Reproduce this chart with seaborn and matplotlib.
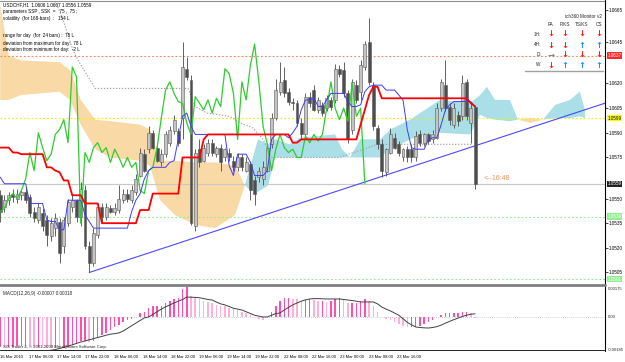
import numpy as np
import matplotlib
matplotlib.use("Agg")
import matplotlib.pyplot as plt
from matplotlib.lines import Line2D
import seaborn as sns

sns.set_theme(style="white")
plt.rcParams['font.family'] = ['Liberation Sans', 'DejaVu Sans']

# ---------------- data (USDCHF H1) ----------------
opens = [1.0552,1.0545,1.0549,1.0553,1.0550,1.0552,1.0554,1.0551,1.0542,1.0537,
         1.0541,1.0537,1.0527,1.0532,1.0536,1.0521,1.0535,1.0545,1.0549,1.0539,
         1.0555,1.0521,1.0511,1.0528,1.0545,1.0539,1.0544,1.0542,1.0543,1.0549,
         1.0553,1.0549,1.0554,1.0564,1.0577,1.0580,1.0590,1.0581,1.0572,1.0577,
         1.0584,1.0591,1.0591,1.0599,1.0629,1.0622,1.0533,1.0580,1.0573,1.0578,
         1.0584,1.0577,1.0581,1.0575,1.0578,1.0573,1.0569,1.0575,1.0567,1.0571,
         1.0561,1.0563,1.0562,1.0567,1.0583,1.0599,1.0615,1.0622,1.0615,1.0609,
         1.0608,1.0596,1.0589,1.0612,1.0616,1.0604,1.0607,1.0605,1.0610,1.0610,
         1.0629,1.0628,1.0614,1.0592,1.0619,1.0615,1.0630,1.0645,1.0619,1.0593,
         1.0583,1.0566,1.0578,1.0587,1.0583,1.0575,1.0580,1.0580,1.0575,1.0589,
         1.0584,1.0589,1.0586,1.0587,1.0605,1.0619,1.0606,1.0595,1.0601,1.0600,
         1.0621,1.0596,1.0606]
highs = [1.0555,1.0552,1.0554,1.0556,1.0556,1.0556,1.0557,1.0553,1.0545,1.0547,
         1.0544,1.0540,1.0538,1.0541,1.0538,1.0539,1.0550,1.0552,1.0550,1.0560,
         1.0558,1.0524,1.0532,1.0547,1.0547,1.0547,1.0546,1.0547,1.0558,1.0556,
         1.0556,1.0558,1.0565,1.0581,1.0580,1.0594,1.0592,1.0583,1.0580,1.0591,
         1.0594,1.0601,1.0593,1.0645,1.0636,1.0625,1.0580,1.0586,1.0583,1.0586,
         1.0586,1.0582,1.0583,1.0581,1.0581,1.0576,1.0578,1.0577,1.0575,1.0573,
         1.0564,1.0569,1.0573,1.0584,1.0602,1.0623,1.0633,1.0630,1.0617,1.0611,
         1.0610,1.0599,1.0614,1.0615,1.0619,1.0612,1.0609,1.0613,1.0612,1.0632,
         1.0631,1.0633,1.0616,1.0623,1.0622,1.0634,1.0646,1.0660,1.0621,1.0595,
         1.0586,1.0581,1.0593,1.0590,1.0585,1.0581,1.0582,1.0583,1.0591,1.0592,
         1.0590,1.0590,1.0592,1.0608,1.0623,1.0634,1.0608,1.0608,1.0603,1.0625,
         1.0623,1.0608,1.0607]
lows = [1.0536,1.0542,1.0546,1.0548,1.0547,1.0549,1.0547,1.0539,1.0536,1.0535,
        1.0530,1.0521,1.0524,1.0527,1.0511,1.0517,1.0533,1.0542,1.0536,1.0533,
        1.0519,1.0505,1.0509,1.0526,1.0536,1.0537,1.0541,1.0540,1.0541,1.0547,
        1.0548,1.0547,1.0552,1.0563,1.0566,1.0578,1.0580,1.0572,1.0570,1.0575,
        1.0582,1.0589,1.0582,1.0586,1.0622,1.0534,1.0530,1.0569,1.0572,1.0576,
        1.0576,1.0575,1.0567,1.0573,1.0573,1.0567,1.0567,1.0567,1.0566,1.0549,
        1.0546,1.0560,1.0558,1.0566,1.0581,1.0598,1.0613,1.0612,1.0607,1.0604,
        1.0594,1.0586,1.0587,1.0606,1.0603,1.0602,1.0600,1.0603,1.0604,1.0608,
        1.0624,1.0612,1.0584,1.0589,1.0608,1.0610,1.0628,1.0619,1.0592,1.0580,
        1.0563,1.0564,1.0577,1.0580,1.0576,1.0573,1.0572,1.0572,1.0573,1.0582,
        1.0582,1.0583,1.0584,1.0586,1.0603,1.0603,1.0595,1.0593,1.0594,1.0598,
        1.0598,1.0584,1.0556]
closes = [1.0542,1.0549,1.0552,1.0551,1.0553,1.0554,1.0549,1.0541,1.0538,1.0545,
          1.0533,1.0528,1.0535,1.0538,1.0517,1.0537,1.0548,1.0549,1.0539,1.0556,
          1.0521,1.0511,1.0529,1.0545,1.0539,1.0545,1.0542,1.0544,1.0550,1.0553,
          1.0550,1.0555,1.0562,1.0578,1.0567,1.0590,1.0581,1.0573,1.0577,1.0589,
          1.0592,1.0598,1.0584,1.0630,1.0624,1.0535,1.0578,1.0572,1.0581,1.0584,
          1.0578,1.0581,1.0572,1.0580,1.0575,1.0569,1.0575,1.0569,1.0572,1.0555,
          1.0553,1.0567,1.0569,1.0581,1.0599,1.0616,1.0621,1.0614,1.0609,1.0608,
          1.0596,1.0589,1.0612,1.0608,1.0604,1.0610,1.0602,1.0611,1.0606,1.0629,
          1.0626,1.0614,1.0586,1.0621,1.0610,1.0631,1.0644,1.0621,1.0594,1.0583,
          1.0567,1.0580,1.0589,1.0581,1.0578,1.0580,1.0575,1.0575,1.0588,1.0584,
          1.0589,1.0585,1.0589,1.0605,1.0621,1.0605,1.0598,1.0605,1.0597,1.0620,
          1.0600,1.0605,1.0559]

kijun = [1.0581]*3 + [1.0578]*2 + [1.0577]*6 + [1.0569]*2 + [1.0567, 1.0566] + \
        [1.0561]*2 + [1.0552]*3 + [1.0547]*4 + [1.0535]*9 + [1.0543]*3 + \
        [1.0553]*7 + [1.0575]*5 + [1.0586] + [1.0589]*20 + [1.0584]*2 + \
        [1.0586]*14 + [1.0595, 1.0604, 1.0613, 1.0618, 1.0618] + [1.0611]*21 + \
        [1.0608, 1.0606]
tenkan = [1.0563] + [1.0559]*6 + [1.0547]*4 + [1.0537] + [1.0536]*2 + [1.0531]*2 + \
         [1.0549]*4 + [1.0540, 1.0536] + [1.0532]*9 + [1.0542, 1.0549, 1.0553, 1.0562, 1.0567] + \
         [1.0569]*4 + [1.0572, 1.0573, 1.0586, 1.0600, 1.0602, 1.0594] + [1.0589]*8 + \
         [1.0570, 1.0564] + [1.0577]*3 + [1.0572] + [1.0564]*3 + [1.0567, 1.0586] + \
         [1.0589]*3 + [1.0587, 1.0590, 1.0594, 1.0604, 1.0610, 1.0610, 1.0611, 1.0606, 1.0606,
                       1.0610] + [1.0614]*4 + [1.0609, 1.0606, 1.0606, 1.0607, 1.0615, 1.0618] + \
         [1.0619]*3 + [1.0616]*3 + [1.0613, 1.0610, 1.0592, 1.0581] + [1.0580]*3 + \
         [1.0586, 1.0587, 1.0587, 1.0595, 1.0604, 1.0607] + [1.0609]*5 + [1.0606]

# Kumo (Senkou spans, already shifted 26 bars forward), positions in bars
cloud_pos = [0, 2, 5, 14, 16.5, 19, 22.4, 26, 33, 35.3, 37.7, 41.2, 46, 50.7, 55.4, 57.7,
             59, 60.8, 63.2, 64.8, 68.3, 70.7, 79, 80.6, 82.5, 84.9, 89.6, 92, 96.7,
             100.2, 103.7, 110.8, 113.2, 114.8, 116.7, 120.2, 122.1, 125, 128, 130.9,
             134.4, 136.7, 137.9]
span_a = [1.0610, 1.0610, 1.0613, 1.0615, 1.0610, 1.0595, 1.0580, 1.0575, 1.0573, 1.0570,
          1.0549, 1.0540, 1.0534, 1.0532, 1.0540, 1.0558,
          1.0570, 1.0586, 1.0583, 1.0586, 1.0583, 1.0587, 1.0589, 1.0580, 1.0575, 1.0586,
          1.0586, 1.0592, 1.0598, 1.0604, 1.0610, 1.0608, 1.0613, 1.0618, 1.0610, 1.0610,
          1.0598, 1.0596, 1.0598, 1.0607, 1.0610, 1.0615, 1.0604]
span_b = [1.0668, 1.0637, 1.0634, 1.0633, 1.0628, 1.0610, 1.0598, 1.0597, 1.0595, 1.0592,
          1.0573, 1.0573, 1.0572, 1.0572, 1.0570, 1.0558,
          1.0555, 1.0554, 1.0558, 1.0575, 1.0575, 1.0575, 1.0575, 1.0575, 1.0575, 1.0575,
          1.0575, 1.0580, 1.0586, 1.0589, 1.0590, 1.0589, 1.0601, 1.0599, 1.0598, 1.0597,
          1.0598, 1.0599, 1.0598, 1.0599, 1.0599, 1.0600, 1.0599]

gray_pos = [13.0, 14.8, 17.2, 18.4, 22.4, 44.3, 46.0, 48.8, 54.2, 56.6, 59.6, 62.0, 64.0,
            80.0, 89.0, 111.5]
gray_val = [1.0670, 1.0659, 1.0640, 1.0634, 1.0617, 1.0617, 1.0606, 1.0602, 1.0600, 1.0596,
            1.0593, 1.0586, 1.0575, 1.0575, 1.0583, 1.0583]

trend_pos = [21, 142.6]
trend_val = [1.0505, 1.0608]

levels = {"1.0637": (1.0637, '#ff7f50', '#ff2a2a', 'white'),
          "1.0599": (1.0599, '#f0f000', '#ffff00', 'black'),
          "1.0559": (1.0559, '#c8c8c8', '#202020', 'white'),
          "1.0539": (1.0539, '#90ee90', '#90ee90', 'white'),
          "1.0501": (1.0501, '#90ee90', '#90ee90', 'white')}
price_ticks = [1.0665, 1.0645, 1.0620, 1.0605, 1.0590, 1.0575, 1.0550, 1.0535, 1.0520, 1.0505]
price_tick_labels = ["1.0665", "1.0645", "1.0620", "1.0605", "1.0590", "1.0575", "1.0550",
                     "1.0535", "1.0520", "1.0505"]

macd_main = [-0.00170,-0.00172,-0.00172,-0.00170,-0.00168,-0.00168,-0.00166,-0.00168,-0.00170,-0.00170,
             -0.00172,-0.00175,-0.00178,-0.00178,-0.00180,-0.00178,-0.00170,-0.00160,-0.00155,-0.00140,
             -0.00140,-0.00145,-0.00140,-0.00120,-0.00105,-0.00090,-0.00075,-0.00060,-0.00045,-0.00030,
             -0.00018,-0.00010,0.00000,0.00020,0.00030,0.00050,0.00060,0.00060,0.00065,0.00080,
             0.00090,0.00105,0.00110,0.00160,0.00170,0.00120,0.00110,0.00100,0.00090,0.00085,
             0.00080,0.00070,0.00065,0.00060,0.00050,0.00045,0.00040,0.00030,0.00025,0.00010,
             0.00000,-0.00010,-0.00015,0.00000,0.00030,0.00060,0.00090,0.00110,0.00110,0.00105,
             0.00100,0.00090,0.00095,0.00100,0.00095,0.00090,0.00090,0.00085,0.00090,0.00100,
             0.00110,0.00100,0.00080,0.00080,0.00080,0.00090,0.00100,0.00090,0.00060,0.00030,
             0.00000,-0.00010,-0.00020,-0.00030,-0.00040,-0.00050,-0.00060,-0.00060,-0.00055,-0.00050,
             -0.00040,-0.00030,-0.00020,0.00000,0.00010,0.00020,0.00020,0.00020,0.00020,0.00030,
             0.00030,0.00025,-0.00007]
macd_signal = [-0.00215,-0.00213,-0.00210,-0.00208,-0.00206,-0.00204,-0.00202,-0.00200,-0.00198,-0.00196,
               -0.00194,-0.00192,-0.00190,-0.00186,-0.00180,-0.00173,-0.00166,-0.00159,-0.00151,-0.00143,
               -0.00137,-0.00130,-0.00124,-0.00117,-0.00111,-0.00104,-0.00098,-0.00095,-0.00091,-0.00080,
               -0.00065,-0.00050,-0.00035,-0.00020,-0.00005,0.00000,0.00015,0.00030,0.00045,0.00058,
               0.00069,0.00080,0.00090,0.00100,0.00114,0.00113,0.00112,0.00110,0.00105,0.00100,
               0.00097,0.00085,0.00075,0.00069,0.00060,0.00050,0.00045,0.00040,0.00030,0.00020,
               0.00010,0.00005,0.00000,0.00000,0.00010,0.00020,0.00023,0.00040,0.00055,0.00069,
               0.00080,0.00090,0.00098,0.00103,0.00105,0.00105,0.00104,0.00103,0.00103,0.00103,
               0.00103,0.00100,0.00097,0.00094,0.00090,0.00086,0.00086,0.00086,0.00086,0.00075,
               0.00057,0.00045,0.00035,0.00023,0.00010,-0.00010,-0.00030,-0.00045,-0.00057,-0.00060,
               -0.00062,-0.00063,-0.00060,-0.00055,-0.00046,-0.00035,-0.00025,-0.00015,-0.00006,0.00003,
               0.00010,0.00016,0.00018]

time_tick_pos = [0.0, 6.79, 13.4, 20.0, 26.8, 33.7, 40.3, 46.9, 53.5, 60.1, 66.9, 73.5, 80.1, 86.9, 93.6]
time_tick_labels = ["16 Mar 2010", "17 Mar 06:00", "17 Mar 14:00", "17 Mar 22:00", "18 Mar 06:00",
                    "18 Mar 14:00", "18 Mar 22:00", "19 Mar 06:00", "19 Mar 14:00", "19 Mar 22:00",
                    "22 Mar 08:00", "22 Mar 16:00", "23 Mar 00:00", "23 Mar 08:00", "23 Mar 16:00"]

info_lines = ["USDCHF,H1  1.0606 1.0607 1.0556 1.0559",
              "parameters SSP , SSK  =   75 ,  75 ;",
              "volatility  (for 168-bars)  :   154 L",
              "",
              "range for day  (for  24 bars) :  75 L",
              "deviation from maximum for day:  78 L",
              "deviation from minimum for day:  -2 L"]

monitor_rows = ["1H:", "4H:", "D:", "W:"]
monitor_cols = ["PA", "P/KS", "TS/KS", "CS"]
monitor_state = [["dn", "dn", "dn", "dn"],
                 ["dn", "dn", "up", "up"],
                 ["flat", "dn", "dn", "dn"],
                 ["dn", "up", "up", "up"]]

FS = 3.3

# ---------------- figure ----------------
W, H = 625, 362
fig = plt.figure(figsize=(W / 100, H / 100), dpi=100)
fig.patch.set_facecolor('white')

def frac(l, t, w, h):
    return [l / W, 1 - (t + h) / H, w / W, h / H]

ax = fig.add_axes(frac(0, 1, 605, 282))
mx = fig.add_axes(frac(0, 287, 605, 63))

n = len(closes)
idx = np.arange(n)
o = np.array(opens); c = np.array(closes); hi = np.array(highs); lo = np.array(lows)

XL = (-0.047, 142.64)
ax.set_xlim(*XL)
ax.set_ylim(1.04986, 1.06702)
ax.set_facecolor('white')

# cloud
ca = np.array(span_a); cb = np.array(span_b); cp = np.array(cloud_pos)
ax.fill_between(cp, ca, cb, where=ca >= cb, interpolate=True, color='#aadfe8', lw=0, zorder=1)
ax.fill_between(cp, ca, cb, where=ca <= cb, interpolate=True, color='#f9d9a6', lw=0, zorder=1)

# horizontal levels
for lab, (val, lc, bg, fg) in levels.items():
    ls = '-' if lab == "1.0559" else (0, (1.5, 2))
    ax.axhline(val, color=lc, lw=0.8, ls=ls, zorder=1.5)

# gray dotted line
sns.lineplot(x=gray_pos, y=gray_val, ax=ax, color='#a0a0a0', lw=0.8, linestyle=(0, (1.2, 1.5)),
             estimator=None, sort=False, zorder=1.6)

# trend line
sns.lineplot(x=trend_pos, y=trend_val, ax=ax, color='#4a4aff', lw=0.8, estimator=None,
             sort=False, zorder=2)

# candles
bull = c >= o
ax.vlines(idx, lo, hi, color='#4a4a4a', lw=0.6, zorder=3)
body = np.maximum(np.abs(c - o), 0.00004)
ax.bar(idx, body, bottom=np.minimum(o, c), width=0.7,
       color=np.where(bull, '#c4c4c4', '#4d4d4d'), edgecolor='#5a5a5a', linewidth=0.4, zorder=4)

# ichimoku lines
sns.lineplot(x=idx[26:] - 26, y=c[26:], ax=ax, color='#2ecc2e', lw=0.9, estimator=None,
             sort=False, zorder=5)
sns.lineplot(x=idx, y=tenkan, ax=ax, color='#3c3cff', lw=0.7, estimator=None, sort=False, zorder=5)
sns.lineplot(x=idx, y=kijun, ax=ax, color='#ff0000', lw=1.3, estimator=None, sort=False, zorder=5.5)

# price axis
ax.yaxis.tick_right()
ax.set_yticks(price_ticks)
ax.set_yticklabels(price_tick_labels)
ax.tick_params(axis='y', length=2, width=0.5, pad=1, labelsize=FS, colors='black')
ax.set_xticks([])
ax.grid(False)
for s in ['left', 'bottom', 'right']:
    ax.spines[s].set_visible(False)
ax.spines['top'].set_color('#909090')
ax.spines['top'].set_linewidth(0.8)

for lab, (val, lc, bg, fg) in levels.items():
    ax.text(1.004, val, lab, transform=ax.get_yaxis_transform(), fontsize=FS, color=fg,
            va='center', ha='left', clip_on=False, zorder=10,
            bbox=dict(facecolor=bg, edgecolor='none', pad=0.5))

# info text
for k, line in enumerate(info_lines):
    if line:
        ax.text(3 / 605, 1 - (1 + 7.0 * k + (3.5 if k >= 4 else 0)) / 282, line,
                transform=ax.transAxes, fontsize=FS, va='top', ha='left', color='black', zorder=10)

ax.text(113.9, 1.0562, "<--16:48", fontsize=5.0, color='#f09060', va='center', ha='left', zorder=10)

# monitor
ax.text(1 - 3 / 605, 1 - 16 / 282, "ich360 Monitor v2", transform=ax.transAxes, fontsize=FS,
        ha='right', va='center', zorder=10)
col_x = [551, 565, 582, 599]
row_y = [33, 44, 54, 64]
for j, cn in enumerate(monitor_cols):
    ax.text(col_x[j] / 605, 1 - 24 / 282, cn, transform=ax.transAxes, fontsize=FS,
            ha='center', va='center', zorder=10)
arrow = {"dn": ("\u2193", '#ff1a1a'), "up": ("\u2191", '#1e8cff'), "flat": ("\u2192", '#808080')}
for r, rn in enumerate(monitor_rows):
    ax.text(541 / 605, 1 - row_y[r] / 282, rn, transform=ax.transAxes, fontsize=FS,
            ha='right', va='center', zorder=10)
    for j in range(4):
        ch, colr = arrow[monitor_state[r][j]]
        ax.text(col_x[j] / 605, 1 - row_y[r] / 282, ch, transform=ax.transAxes, fontsize=6.0,
                fontweight='bold', color=colr, ha='center', va='center', zorder=10,
                family='DejaVu Sans')
ax.add_line(Line2D([525 / 605, 603 / 605], [1 - 70 / 282] * 2, transform=ax.transAxes,
                   color='#a0a0a0', lw=1.0, zorder=10))

# ---------------- MACD ----------------
mm = np.array(macd_main)
mx.set_xlim(*XL)
mx.set_ylim(-0.001886, 0.001714)
rising = np.concatenate([[True], mm[1:] >= mm[:-1]])
mx.bar(idx, mm, width=0.35, color=np.where(rising, '#ff4fa8', '#ffb0d6'), lw=0, zorder=2)
mx.axhline(0, color='#c0c0c0', lw=0.6, ls=(0, (1, 1.5)), zorder=1)
sns.lineplot(x=idx, y=macd_signal, ax=mx, color='#404040', lw=0.7, estimator=None, sort=False,
             zorder=3)
mx.set_yticks([])
mx.set_xticks(time_tick_pos)
mx.set_xticklabels(time_tick_labels)
mx.tick_params(axis='x', length=2, width=0.5, pad=1.5, labelsize=3.0, colors='black',
               direction='out')
for lbl in mx.get_xticklabels():
    lbl.set_ha('left')
for s in ['left', 'top', 'right']:
    mx.spines[s].set_visible(False)
mx.spines['bottom'].set_color('black')
mx.spines['bottom'].set_linewidth(0.6)
mx.text(3 / 605, 0.93, "MACD(12,26,9) -0.00007 0.00018", transform=mx.transAxes, fontsize=FS,
        va='top', ha='left')
mx.text(3 / 605, 0.02, "SIS Trader 4, \u00a9 2001-2009 MetaQuotes Software Corp.",
        transform=mx.transAxes, fontsize=3.1, va='bottom', ha='left')
for yy, t, va in [(0.001714, "0.00175", 'top'), (0.0, "0.00", 'center'),
                  (-0.001886, "-0.00185", 'center')]:
    mx.text(1.004, yy, t, transform=mx.get_yaxis_transform(), fontsize=3.0, va=va,
            ha='left', clip_on=False)

# frame lines
fig.add_artist(Line2D([605 / W] * 2, [1 - 351 / H, 1], transform=fig.transFigure,
                      color='black', lw=0.8))
fig.add_artist(Line2D([0, 605 / W], [1 - 285 / H] * 2, transform=fig.transFigure,
                      color='#808080', lw=2.0))

fig.savefig("out.png", dpi=100, facecolor='white')
